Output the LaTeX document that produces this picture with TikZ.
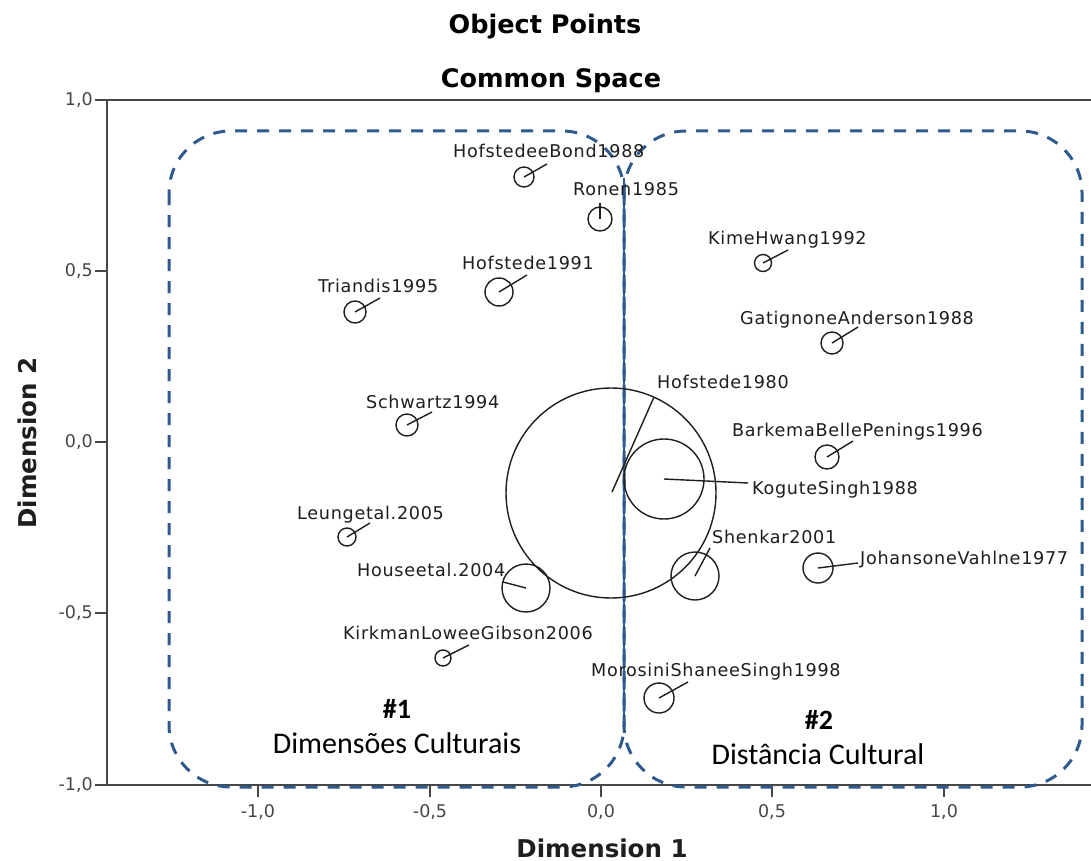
\documentclass[tikz,border=0pt]{standalone}
\usepackage{fontspec}
\newfontfamily\plotfont[LetterSpace=4]{DejaVu Sans}
\newfontfamily\axisfont{DejaVu Sans}
\newfontfamily\notefont{Carlito}
\definecolor{clusterblue}{RGB}{47,90,141}
\definecolor{axisgray}{RGB}{70,70,70}
\definecolor{inkgray}{RGB}{30,30,30}
\begin{document}
\begin{tikzpicture}[x=1pt,y=-1pt,
  obj/.style={circle, draw=inkgray, line width=1.4pt, inner sep=0pt, minimum size=#1},
  lead/.style={draw=inkgray, line width=1.4pt},
  lbl/.style={anchor=base west, inner sep=0pt, text=inkgray,
              font=\plotfont\fontsize{17.6}{19}\selectfont},
  ticklbl/.style={inner sep=0pt, text=axisgray,
              font=\axisfont\fontsize{17.5}{19}\selectfont},
  axisline/.style={draw=axisgray, line width=2pt},
  titletext/.style={anchor=base, inner sep=0pt,
              font=\axisfont\bfseries\fontsize{25.5}{28}\selectfont},
  axistitle/.style={anchor=base, inner sep=0pt, text=inkgray, text depth=0pt,
              font=\axisfont\bfseries\fontsize{24.5}{27}\selectfont},
  cluster/.style={draw=clusterblue, line width=3pt, dash pattern=on 12pt off 10pt,
              rounded corners=62pt},
  divider/.style={draw=clusterblue, line width=2.5pt},
  notehead/.style={anchor=base, inner sep=0pt, font=\notefont\bfseries\fontsize{28}{30}\selectfont},
  notebody/.style={anchor=base, inner sep=0pt, font=\notefont\fontsize{30}{32}\selectfont}
]
\useasboundingbox (0,0) rectangle (1091,861);
\fill[white] (0,0) rectangle (1091,861);

% titles
\node[titletext] (t1) at (545,34) {Object Points};
\node[titletext] (t2) at (551,88) {Common Space};

% frame
\coordinate (tl) at (107,100);
\coordinate (tr) at (1091,100);
\coordinate (bl) at (107,785);
\coordinate (br) at (1091,785);
\draw[axisline] (tr) -- (tl) -- (bl) -- (br);

% y ticks
\foreach \yy/\lab/\nm in {100/{1,0}/ya, 271/{0,5}/yb, 442/{0,0}/yc, 613/{-0,5}/yd, 785/{-1,0}/ye}{
  \coordinate (\nm-a) at (95,\yy);
  \coordinate (\nm-b) at (107,\yy);
  \draw[axisline] (\nm-a) -- (\nm-b);
  \node[ticklbl, anchor=east] (\nm-l) at (93,\yy) {\lab};
}
% x ticks
\foreach \xx/\lab/\nm in {258/{-1,0}/xa, 430/{-0,5}/xb, 601/{0,0}/xc, 772/{0,5}/xd, 944/{1,0}/xe}{
  \coordinate (\nm-a) at (\xx,785);
  \coordinate (\nm-b) at (\xx,797);
  \draw[axisline] (\nm-a) -- (\nm-b);
  \node[ticklbl, anchor=center] (\nm-l) at (\xx,812) {\lab};
}

% axis titles
\node[axistitle] (d1) at (602,857) {Dimension 1};
\node[axistitle, rotate=90] (d2) at (36,443) {Dimension 2};

% cluster outlines
\draw[cluster] (169,131) rectangle (624,787);
\draw[cluster] (624,131) rectangle (1082,787);
\coordinate (dv-top) at (624,178);
\coordinate (dv-bot) at (624,720);
\draw[divider] (dv-top) -- (dv-bot);

% object points
\node[obj=20pt] (hb) at (524,177) {};
\node[obj=24pt] (ro) at (600,219) {};
\node[obj=17pt] (kh) at (763,263) {};
\node[obj=22pt] (ga) at (832,343) {};
\node[obj=28pt] (hn) at (499,292) {};
\node[obj=22pt] (tri) at (355,312) {};
\node[obj=22pt] (sc) at (407,425) {};
\node[obj=210pt] (he) at (611,493) {};
\node[obj=80pt] (ks) at (664,479) {};
\node[obj=24pt] (bb) at (827,457) {};
\node[obj=18pt] (le) at (347,537) {};
\node[obj=48pt] (ho) at (526,588) {};
\node[obj=16pt] (kl) at (443,658) {};
\node[obj=48pt] (sh) at (695,576) {};
\node[obj=30pt] (jv) at (818,568) {};
\node[obj=30pt] (ms) at (659,698) {};

% leader ends
\coordinate (hb-e) at (547,164);
\coordinate (ro-e) at (600,203);
\coordinate (kh-e) at (788,250);
\coordinate (ga-e) at (858,327);
\coordinate (hn-e) at (527,275);
\coordinate (tri-e) at (380,298);
\coordinate (sc-e) at (432,412);
\coordinate (he-s) at (612,492);
\coordinate (he-e) at (654,397);
\coordinate (ks-e) at (748,483);
\coordinate (bb-e) at (853,441);
\coordinate (le-e) at (370,523);
\coordinate (ho-e) at (503,582);
\coordinate (kl-e) at (469,645);
\coordinate (sh-e) at (710,548);
\coordinate (jv-e) at (858,563);
\coordinate (ms-e) at (688,682);

\foreach \p in {hb,ro,kh,ga,hn,tri,sc,ks,bb,le,ho,kl,sh,jv,ms}{
  \draw[lead] (\p.center) -- (\p-e);
}
\draw[lead] (he-s) -- (he-e);

% labels
\node[lbl] (hb-l) at (453,158) {HofstedeeBond1988};
\node[lbl] (ro-l) at (573,196) {Ronen1985};
\node[lbl] (kh-l) at (708,244) {KimeHwang1992};
\node[lbl] (ga-l) at (740,324) {GatignoneAnderson1988};
\node[lbl] (hn-l) at (462,269) {Hofstede1991};
\node[lbl] (tri-l) at (318,292) {Triandis1995};
\node[lbl] (sc-l) at (366,408) {Schwartz1994};
\node[lbl] (he-l) at (657,388) {Hofstede1980};
\node[lbl] (ks-l) at (752,494) {KoguteSingh1988};
\node[lbl] (bb-l) at (732,436) {BarkemaBellePenings1996};
\node[lbl] (le-l) at (297,519) {Leungetal.2005};
\node[lbl] (ho-l) at (357,576) {Houseetal.2004};
\node[lbl] (kl-l) at (343,639) {KirkmanLoweeGibson2006};
\node[lbl] (sh-l) at (712,543) {Shenkar2001};
\node[lbl] (jv-l) at (860,564) {JohansoneVahlne1977};
\node[lbl] (ms-l) at (591,676) {MorosiniShaneeSingh1998};

% cluster captions
\node[notehead] (c1h) at (397,718) {\#1};
\node[notebody] (c1b) at (397,753) {Dimensões Culturais};
\node[notehead] (c2h) at (819,729) {\#2};
\node[notebody] (c2b) at (818,764) {Distância Cultural};
\end{tikzpicture}
\end{document}
